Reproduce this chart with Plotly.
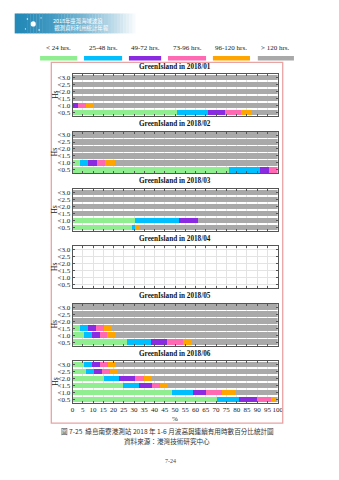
import plotly.graph_objects as go

W, H = 339, 480

# Wave-height classes (top row first) and persistence classes
hs_classes = ["<3.0", "<2.5", "<2.0", "<1.5", "<1.0", "<0.5"]
duration_labels = ["< 24 hrs.", "25-48 hrs.", "49-72 hrs.", "73-96 hrs.", "96-120 hrs.", "> 120 hrs."]
duration_colors = ["#90EE90", "#00BFFF", "#8A2BE2", "#FF69B4", "#FFA500", "#A9A9A9"]
months = ["2018/01", "2018/02", "2018/03", "2018/04", "2018/05", "2018/06"]
x_ticks = list(range(0, 101, 5))

# Percentage of time per persistence class, one list per class, rows follow hs_classes
jan_lt24 = [0, 0, 0, 0, 0, 50.8]
jan_25_48 = [0, 0, 0, 0, 0, 15.2]
jan_49_72 = [0, 0, 0, 0, 2.7, 8.3]
jan_73_96 = [0, 0, 0, 0, 3.8, 7.9]
jan_96_120 = [0, 0, 0, 0, 3.8, 5.1]
jan_gt120 = [100, 100, 100, 100, 89.7, 12.7]

feb_lt24 = [0, 0, 0, 0, 3.7, 76.2]
feb_25_48 = [0, 0, 0, 0, 3.8, 15.1]
feb_49_72 = [0, 0, 0, 0, 4.6, 4.7]
feb_73_96 = [0, 0, 0, 0, 3.8, 4.0]
feb_96_120 = [0, 0, 0, 0, 4.9, 0]
feb_gt120 = [100, 100, 100, 100, 79.2, 0]

mar_lt24 = [0, 0, 0, 0, 30.6, 28.9]
mar_25_48 = [0, 0, 0, 0, 21.5, 1.6]
mar_49_72 = [0, 0, 0, 0, 8.9, 0]
mar_73_96 = [0, 0, 0, 0, 0, 0]
mar_96_120 = [0, 0, 0, 0, 0, 2.5]
mar_gt120 = [100, 100, 100, 100, 39.0, 67.0]

# April: no records
apr_lt24 = [None] * 6
apr_25_48 = [None] * 6
apr_49_72 = [None] * 6
apr_73_96 = [None] * 6
apr_96_120 = [None] * 6
apr_gt120 = [None] * 6

may_lt24 = [0, 0, 0, 3.8, 5.6, 26.7]
may_25_48 = [0, 0, 0, 3.7, 3.8, 11.4]
may_49_72 = [0, 0, 0, 4.1, 3.8, 7.9]
may_73_96 = [0, 0, 0, 3.6, 3.8, 7.7]
may_96_120 = [0, 0, 0, 4.0, 4.0, 4.4]
may_gt120 = [100, 100, 100, 80.8, 79.0, 41.9]

jun_lt24 = [5.7, 6.4, 15.2, 24.7, 48.5, 70.2]
jun_25_48 = [3.8, 3.9, 7.5, 7.5, 10.3, 10.8]
jun_49_72 = [3.7, 3.8, 7.7, 6.3, 6.1, 8.9]
jun_73_96 = [3.9, 3.9, 4.6, 4.1, 7.8, 7.0]
jun_96_120 = [4.0, 4.0, 3.8, 3.9, 7.2, 2.1]
jun_gt120 = [78.9, 78.0, 61.2, 53.5, 20.1, 1.0]

monthly = [
    [jan_lt24, jan_25_48, jan_49_72, jan_73_96, jan_96_120, jan_gt120],
    [feb_lt24, feb_25_48, feb_49_72, feb_73_96, feb_96_120, feb_gt120],
    [mar_lt24, mar_25_48, mar_49_72, mar_73_96, mar_96_120, mar_gt120],
    [apr_lt24, apr_25_48, apr_49_72, apr_73_96, apr_96_120, apr_gt120],
    [may_lt24, may_25_48, may_49_72, may_73_96, may_96_120, may_gt120],
    [jun_lt24, jun_25_48, jun_49_72, jun_73_96, jun_96_120, jun_gt120],
]

SERIF = "Liberation Serif, Times New Roman, serif"
CJK = "Noto Sans CJK TC, sans-serif"


def px_x(x):
    return x / W


def px_y(y):
    return 1 - y / H


fig = go.Figure()

# Panel geometry (pixels)
plot_left, plot_right = 72.3, 282.3
first_center, period, half_h = 95.3, 57.5, 21.0

layout_axes = {}
annotations = []
shapes = []

for i, (month, series) in enumerate(zip(months, monthly)):
    n = "" if i == 0 else str(i + 1)
    center = first_center + period * i
    top, bottom = center - half_h, center + half_h
    for vals, color, label in zip(series, duration_colors, duration_labels):
        fig.add_trace(go.Bar(
            x=vals, y=hs_classes, orientation="h", name=label,
            marker=dict(color=color, line=dict(width=0)),
            width=0.8, xaxis="x" + n, yaxis="y" + n, showlegend=False,
        ))
    last = i == len(months) - 1
    layout_axes["xaxis" + n] = dict(
        domain=[px_x(plot_left), px_x(plot_right)], anchor="y" + n,
        range=[0, 100], tickmode="array", tickvals=x_ticks,
        ticktext=[str(t) for t in x_ticks], tickangle=0,
        ticks="inside", ticklen=2, tickcolor="#555", mirror="ticks",
        showline=True, linecolor="#555", linewidth=1,
        showgrid=True, gridcolor="#e3e3e3", gridwidth=1, zeroline=False,
        showticklabels=last, tickfont=dict(family=SERIF, size=7, color="#222"),
        fixedrange=True,
    )
    layout_axes["yaxis" + n] = dict(
        domain=[px_y(bottom), px_y(top)], anchor="x" + n,
        type="category", categoryorder="array", categoryarray=hs_classes[::-1],
        range=[-0.5, 5.5], tickmode="array", tickvals=hs_classes, ticktext=hs_classes,
        ticks="inside", ticklen=2, tickcolor="#555", mirror="ticks",
        showline=True, linecolor="#555", linewidth=1,
        showgrid=True, gridcolor="#e3e3e3", gridwidth=1,
        tickfont=dict(family=SERIF, size=7, color="#222"),
        fixedrange=True,
    )
    annotations.append(dict(
        text="<b>GreenIsland in " + month + "</b>", xref="paper", yref="paper",
        x=px_x((plot_left + plot_right) / 2), y=px_y(top - 7.5),
        xanchor="center", yanchor="middle", showarrow=False,
        font=dict(family=SERIF, size=7.2, color="#111"),
    ))
    annotations.append(dict(
        text="Hs", xref="paper", yref="paper", x=px_x(54), y=px_y(center),
        xanchor="center", yanchor="middle", textangle=-90, showarrow=False,
        font=dict(family=SERIF, size=7.5, color="#222"),
    ))

# x-axis unit label
annotations.append(dict(
    text="%", xref="paper", yref="paper", x=px_x(177.3), y=px_y(419.5),
    xanchor="center", yanchor="middle", showarrow=False,
    font=dict(family=SERIF, size=7, color="#222"),
))

# Legend: label above a colour strip
legend_spans = [(39, 77), (84, 123), (130, 163), (170, 209), (216, 254), (262, 299)]
for (x0, x1), color, label in zip(legend_spans, duration_colors, duration_labels):
    shapes.append(dict(type="rect", xref="paper", yref="paper",
                       x0=px_x(x0), x1=px_x(x1), y0=px_y(60.6), y1=px_y(56.2),
                       fillcolor=color, line=dict(width=0)))
    annotations.append(dict(
        text=label, xref="paper", yref="paper", x=px_x((x0 + x1) / 2), y=px_y(48.3),
        xanchor="center", yanchor="middle", showarrow=False,
        font=dict(family=SERIF, size=7, color="#222"),
    ))

# Frame around the figure block
shapes.append(dict(type="rect", xref="paper", yref="paper",
                   x0=px_x(50.5), x1=px_x(287.5), y0=px_y(424), y1=px_y(62.5),
                   line=dict(color="#eaa3a3", width=1.3), fillcolor="rgba(0,0,0,0)"))

# Header banner with a horizontal fade
n_steps = 40
b_x0, b_x1, b_y0, b_y1 = 13, 140, 13.5, 33.5
c0, c1 = (38, 138, 184), (255, 255, 255)
for k in range(n_steps):
    t = k / (n_steps - 1)
    t2 = t ** 1.6
    col = tuple(int(c0[j] + (c1[j] - c0[j]) * t2) for j in range(3))
    xa = b_x0 + (b_x1 - b_x0) * k / n_steps
    xb = b_x0 + (b_x1 - b_x0) * (k + 1) / n_steps + 0.3
    shapes.append(dict(type="rect", xref="paper", yref="paper",
                       x0=px_x(xa), x1=px_x(xb), y0=px_y(b_y1), y1=px_y(b_y0),
                       fillcolor="rgb(%d,%d,%d)" % col, line=dict(width=0), layer="below"))
for cx, cy, r in [(32, 24, 2.6), (26, 19, 0.8), (38, 30, 0.8), (24, 29, 0.6), (40, 18, 0.6)]:
    shapes.append(dict(type="circle", xref="paper", yref="paper",
                       x0=px_x(cx - r), x1=px_x(cx + r), y0=px_y(cy + r), y1=px_y(cy - r),
                       fillcolor="white", line=dict(width=0)))
annotations.append(dict(
    text="2018年臺灣海域波浪<br> 觀測資料利用統計年報", xref="paper", yref="paper",
    x=px_x(50), y=px_y(24.9), align="left",
    xanchor="left", yanchor="middle", showarrow=False,
    font=dict(family=CJK, size=5.4, color="white"),
))

# Caption, source and page number
annotations.append(dict(
    text="圖 7-25  綠島南寮港測站 2018 年 1-6 月波高與連續有用時數百分比統計圖",
    xref="paper", yref="paper", x=px_x(169.5), y=px_y(431.8),
    xanchor="center", yanchor="middle", showarrow=False,
    font=dict(family=CJK, size=6.6, color="#333"),
))
annotations.append(dict(
    text="資料來源：港灣技術研究中心", xref="paper", yref="paper", x=px_x(168.5), y=px_y(442.3),
    xanchor="center", yanchor="middle", showarrow=False,
    font=dict(family=CJK, size=6.6, color="#333"),
))
annotations.append(dict(
    text="7-24", xref="paper", yref="paper", x=px_x(173), y=px_y(461.7),
    xanchor="center", yanchor="middle", showarrow=False,
    font=dict(family=SERIF, size=6, color="#444"),
))

fig.update_layout(
    width=W, height=H, margin=dict(l=0, r=0, t=0, b=0),
    paper_bgcolor="white", plot_bgcolor="white",
    barmode="stack", bargap=0.2, showlegend=False,
    annotations=annotations, shapes=shapes,
    **layout_axes,
)

fig.write_html("out.html")
